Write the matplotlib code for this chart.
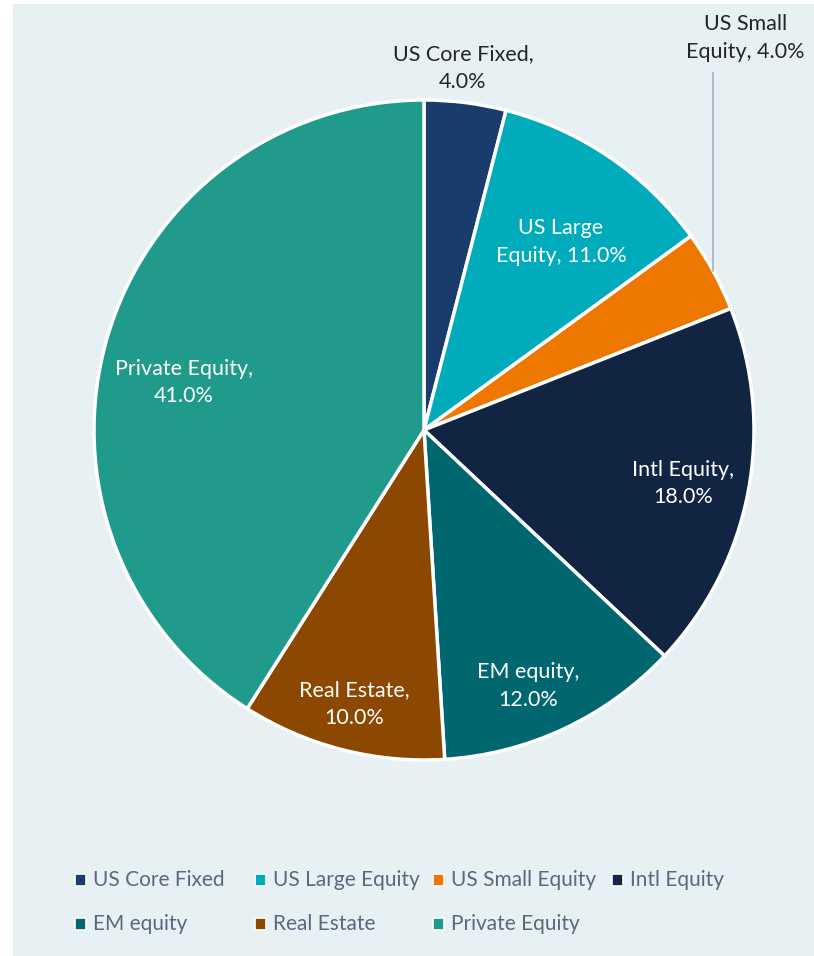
import matplotlib
matplotlib.use("Agg")
import matplotlib.pyplot as plt
from matplotlib.patches import Rectangle
import numpy as np

plt.rcParams['font.family'] = ['Lato', 'DejaVu Sans']

names = ["US Core Fixed", "US Large Equity", "US Small Equity", "Intl Equity",
         "EM equity", "Real Estate", "Private Equity"]
# label text on the pie splits differently from the legend names
label_names = ["US Core Fixed,\n", "US Large\nEquity, ", "US Small\nEquity, ",
               "Intl Equity,\n", "EM equity,\n", "Real Estate,\n",
               "Private Equity,\n"]
weights = [4.0, 11.0, 4.0, 18.0, 12.0, 10.0, 41.0]
colors = ["#1a3c6c", "#00abbb", "#ee7700", "#112442",
          "#00666f", "#8c4700", "#209a8b"]

W, H = 814, 956
R = 330.0          # pie radius in pixels
cx, cy = 424, 430  # pie centre in pixels (from top-left)

# where each data label goes, in pie-radius units from the centre
label_pos = [(0.118, 1.097), (0.415, 0.570), (0.973, 1.188), (0.785, -0.161),
             (0.315, -0.776), (-0.212, -0.830), (-0.727, 0.145)]
outside = [True, False, True, False, False, False, False]

fig = plt.figure(figsize=(W / 100, H / 100), dpi=100, facecolor="white")
fig.patches.append(Rectangle((13 / W, 0), 1, 1 - 4 / H, transform=fig.transFigure,
                             facecolor="#e7f0f3", edgecolor="none", zorder=-5))

ax = fig.add_axes([0, 0, 1, 1])
ax.set_facecolor("none")
wedges, _ = ax.pie(weights, colors=colors, startangle=90, counterclock=False,
                   radius=1.0,
                   wedgeprops=dict(edgecolor="white", linewidth=2.5))
ax.set_xlim(-cx / R, (W - cx) / R)
ax.set_ylim(-(H - cy) / R, cy / R)
ax.set_aspect("equal")
ax.axis("off")

for i, w in enumerate(wedges):
    txt = f"{label_names[i]}{weights[i]:.1f}%"
    x, y = label_pos[i]
    ax.text(x, y, txt, ha="center", va="center",
            color="#262626" if outside[i] else "white",
            fontsize=15.5, linespacing=1.45)

# leader line for the thin US Small Equity slice
mid = np.deg2rad((wedges[2].theta1 + wedges[2].theta2) / 2)
ex, ey = np.cos(mid), np.sin(mid)
ax.plot([ex, ex], [ey, 1.082], color="#a6b1bd", lw=1.2, clip_on=False)

# legend, four entries per row
col_x = [80, 260, 438, 617]
row_y = [880, 924]
for i, (n, c) in enumerate(zip(names, colors)):
    x = col_x[i % 4]
    y = row_y[i // 4]
    fig.patches.append(Rectangle(((x - 5) / W, 1 - (y + 6) / H), 11 / W, 12 / H,
                                 transform=fig.transFigure, facecolor=c,
                                 edgecolor="white", linewidth=1.2, zorder=3))
    fig.text((x + 13) / W, 1 - y / H, n, ha="left", va="center",
             color="#5a6880", fontsize=15)

fig.savefig("out.png", dpi=100, facecolor="white")
